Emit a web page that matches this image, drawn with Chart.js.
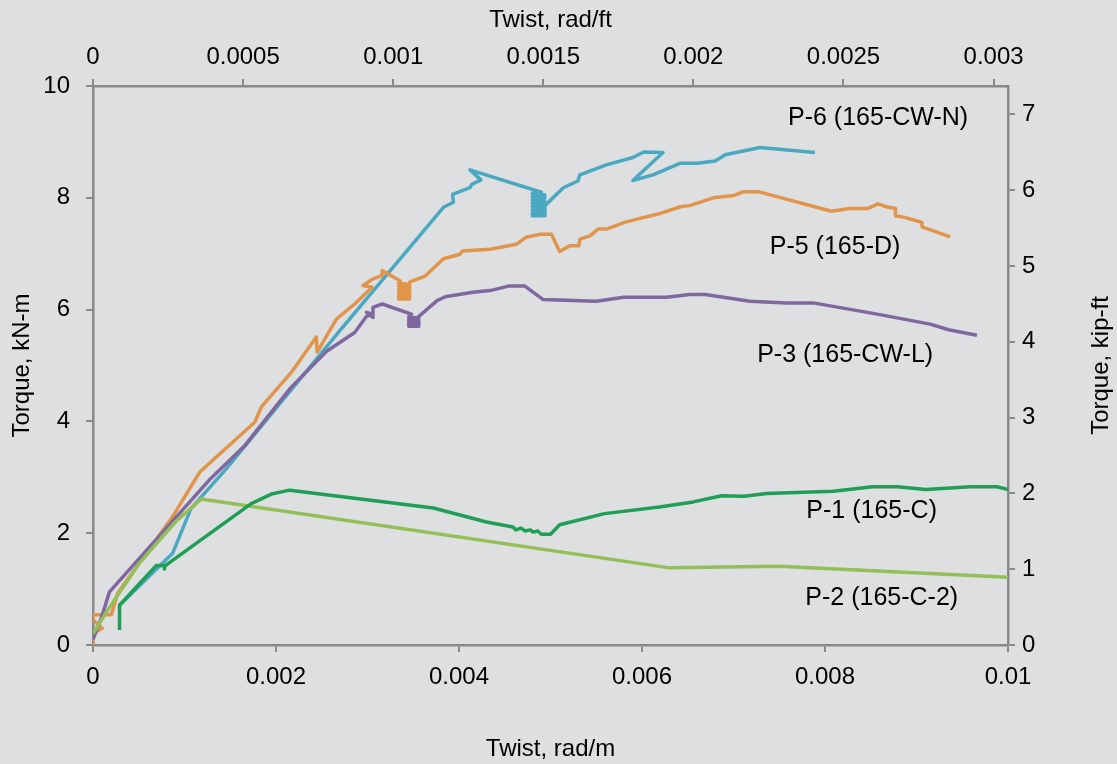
<!DOCTYPE html>
<html>
<head>
<meta charset="utf-8">
<script src="https://cdn.jsdelivr.net/npm/chart.js@4/dist/chart.umd.min.js"></script>
<style>
  body { margin: 0; background: #dedfe1; }
  #wrap { width: 1117px; height: 764px; }
</style>
</head>
<body>
<div id="wrap"><canvas id="torqueChart" width="1117" height="764"></canvas></div>
<script>
// twist in rad/m, torque in kN-m
const p1Twist = [0.00029, 0.00029, 0.00069, 0.00078, 0.00078, 0.00079, 0.00173, 0.00195, 0.00215, 0.00372, 0.0043, 0.00459, 0.00462, 0.00468, 0.00472, 0.00478, 0.00481, 0.00486, 0.0049, 0.005, 0.0051, 0.00559, 0.00619, 0.00656, 0.00687, 0.00712, 0.00736, 0.00809, 0.00852, 0.00879, 0.0091, 0.00959, 0.00988, 0.01];
const p1Torque = [0.27, 0.71, 1.42, 1.42, 1.36, 1.42, 2.53, 2.70, 2.77, 2.45, 2.20, 2.11, 2.06, 2.09, 2.04, 2.06, 2.02, 2.04, 1.98, 1.98, 2.15, 2.35, 2.47, 2.56, 2.67, 2.66, 2.71, 2.75, 2.83, 2.83, 2.78, 2.83, 2.83, 2.78];

const p2Twist = [0, 0.00015, 0.0005, 0.0009, 0.00118, 0.0063, 0.0075, 0.01];
const p2Torque = [0.2, 0.6, 1.45, 2.2, 2.61, 1.38, 1.41, 1.21];

const p3Twist = [0, 0.00009, 0.00018, 0.00127, 0.00166, 0.00216, 0.00255, 0.00286, 0.00299, 0.00306, 0.00299, 0.00306, 0.00306, 0.00316, 0.00348,
  0.00345, 0.00356, 0.00345, 0.00356, 0.00345, 0.00356, 0.00345, 0.00356, 0.00345, 0.00356, 0.00345, 0.00356, 0.00356,
  0.00359, 0.00376, 0.00385, 0.00415, 0.00434, 0.00454, 0.00472, 0.00492, 0.0055, 0.0058, 0.00627, 0.00652, 0.00669, 0.00718, 0.00758, 0.00787, 0.0086, 0.00915, 0.00935, 0.00966];
const p3Torque = [0.1, 0.48, 0.95, 2.95, 3.57, 4.6, 5.25, 5.59, 5.88, 5.92, 5.95, 5.86, 6.04, 6.10, 5.92,
  5.87, 5.85, 5.83, 5.81, 5.79, 5.77, 5.75, 5.73, 5.71, 5.70, 5.70, 5.70, 5.88,
  5.92, 6.16, 6.23, 6.31, 6.34, 6.42, 6.42, 6.18, 6.15, 6.22, 6.22, 6.27, 6.27, 6.15, 6.12, 6.12, 5.91, 5.74, 5.64, 5.54];

const p5Twist = [0, 0, 0.0001, 0, 0, 0.0002, 0.00027, 0.00086, 0.00117, 0.00177, 0.00184, 0.00217, 0.00244, 0.00245, 0.00266, 0.00286, 0.00305, 0.00295, 0.00306, 0.00316, 0.00316, 0.00336,
  0.00334, 0.00346, 0.00334, 0.00346, 0.00334, 0.00346, 0.00334, 0.00346, 0.00334, 0.00346, 0.00334, 0.00346, 0.00334, 0.00346, 0.00346,
  0.00363, 0.00383, 0.00401, 0.00404, 0.00434, 0.00463, 0.00474, 0.0049, 0.00501, 0.0051, 0.00521, 0.00531, 0.00532, 0.00543, 0.00552, 0.00561, 0.00581, 0.006, 0.0062, 0.00642, 0.00652, 0.00678, 0.007, 0.00711, 0.00727, 0.00807, 0.00827, 0.00847, 0.00858, 0.00867, 0.00877, 0.00877, 0.00887, 0.00893, 0.00906, 0.00906, 0.00937];
const p5Torque = [0, 0.2, 0.3, 0.45, 0.54, 0.54, 0.93, 2.27, 3.10, 3.99, 4.26, 4.88, 5.51, 5.24, 5.83, 6.10, 6.40, 6.43, 6.55, 6.61, 6.70, 6.51,
  6.47, 6.45, 6.42, 6.40, 6.37, 6.35, 6.32, 6.30, 6.27, 6.25, 6.22, 6.20, 6.19, 6.19, 6.49,
  6.60, 6.91, 6.99, 7.05, 7.08, 7.17, 7.30, 7.35, 7.35, 7.04, 7.14, 7.14, 7.26, 7.32, 7.44, 7.44, 7.56, 7.64, 7.72, 7.84, 7.86, 8.0, 8.04, 8.11, 8.11, 7.76, 7.81, 7.81, 7.89, 7.84, 7.81, 7.68, 7.65, 7.62, 7.56, 7.48, 7.30];

const p6Twist = [0.00029, 0.00087, 0.00107, 0.00146, 0.0027, 0.00383, 0.00394, 0.00393, 0.00412, 0.00414, 0.00424, 0.00412, 0.0049,
  0.0048, 0.00494, 0.0048, 0.00494, 0.0048, 0.00494, 0.0048, 0.00494, 0.0048, 0.00494, 0.0048, 0.00494, 0.0048, 0.00494, 0.0048, 0.00494, 0.0048, 0.00494, 0.00494,
  0.00514, 0.0053, 0.00532, 0.00561, 0.0059, 0.00602, 0.00623, 0.0059, 0.00612, 0.00642, 0.0066, 0.0068, 0.00691, 0.00729, 0.00789];
const p6Torque = [0.71, 1.64, 2.44, 3.16, 5.63, 7.83, 7.92, 8.06, 8.18, 8.24, 8.32, 8.50, 8.10,
  8.08, 8.05, 8.02, 7.99, 7.96, 7.93, 7.90, 7.87, 7.84, 7.81, 7.78, 7.75, 7.72, 7.70, 7.68, 7.68, 7.68, 7.72, 7.86,
  8.18, 8.30, 8.41, 8.59, 8.72, 8.82, 8.81, 8.31, 8.41, 8.62, 8.62, 8.66, 8.77, 8.90, 8.81];

const seriesNames = ["P-1 (165-C)", "P-2 (165-C-2)", "P-3 (165-CW-L)", "P-5 (165-D)", "P-6 (165-CW-N)"];
const seriesColors = ["#1f9f55", "#93bf57", "#7f68a0", "#e0954b", "#4aa8c0"];
// label anchors (rad/m, kN-m)
const labelTwist = [0.00851, 0.00862, 0.00822, 0.00811, 0.00858];
const labelTorque = [2.39, 0.84, 5.18, 7.11, 9.43];

const twistMTicks = [0, 0.002, 0.004, 0.006, 0.008, 0.01];
const twistMLabels = ["0", "0.002", "0.004", "0.006", "0.008", "0.01"];
const twistFtTicks = [0, 0.0005, 0.001, 0.0015, 0.002, 0.0025, 0.003];
const twistFtLabels = ["0", "0.0005", "0.001", "0.0015", "0.002", "0.0025", "0.003"];
const torqueKnmTicks = [0, 2, 4, 6, 8, 10];
const torqueKipTicks = [0, 1, 2, 3, 4, 5, 6, 7];

const FT_PER_M = 0.3048;
const KIPFT_PER_KNM = 0.73756;

const axisGray = "#898989";
const fontFamily = "'Liberation Sans', Arial, sans-serif";

function points(xs, ys) {
  return xs.map((x, i) => ({ x: x, y: ys[i] }));
}

const allTwist = [p1Twist, p2Twist, p3Twist, p5Twist, p6Twist];
const allTorque = [p1Torque, p2Torque, p3Torque, p5Torque, p6Torque];

const datasets = seriesNames.map((name, i) => ({
  label: name,
  data: points(allTwist[i], allTorque[i]),
  borderColor: seriesColors[i],
  backgroundColor: seriesColors[i],
  borderWidth: 3.5,
  showLine: true,
  pointRadius: 0,
  tension: 0,
  borderJoinStyle: "round",
  xAxisID: "x",
  yAxisID: "y",
}));

function fixedTicks(values) {
  return (scale) => {
    scale.ticks = values.map((v) => ({ value: v }));
  };
}

function axis(opts) {
  return {
    type: "linear",
    position: opts.position,
    min: opts.min,
    max: opts.max,
    afterBuildTicks: fixedTicks(opts.ticks),
    afterFit: opts.afterFit,
    grid: {
      display: true,
      drawOnChartArea: false,
      drawTicks: true,
      tickLength: 7,
      color: axisGray,
      lineWidth: 2,
    },
    border: { display: true, color: axisGray, width: 2.5 },
    ticks: {
      color: "#000",
      font: { family: fontFamily, size: 24 },
      padding: opts.padding,
      maxRotation: 0,
      autoSkip: false,
      callback: opts.callback,
    },
    title: {
      display: opts.title !== null,
      text: opts.title || "",
      color: "#000",
      font: { family: fontFamily, size: 24 },
      padding: opts.titlePadding,
    },
  };
}

const bgPlugin = {
  id: "bg",
  beforeDraw(chart) {
    const ctx = chart.ctx;
    ctx.save();
    ctx.fillStyle = "#dedfe1";
    ctx.fillRect(0, 0, chart.width, chart.height);
    ctx.restore();
  },
};

const seriesLabelPlugin = {
  id: "seriesLabels",
  afterDatasetsDraw(chart) {
    const ctx = chart.ctx;
    const xs = chart.scales.x;
    const ys = chart.scales.y;
    ctx.save();
    ctx.font = "25px " + fontFamily;
    ctx.fillStyle = "#000";
    ctx.textAlign = "center";
    ctx.textBaseline = "middle";
    seriesNames.forEach((name, i) => {
      ctx.fillText(name, xs.getPixelForValue(labelTwist[i]), ys.getPixelForValue(labelTorque[i]));
    });
    ctx.restore();

    // right axis title reads bottom-to-top, like the left one
    const y2 = chart.scales.y2;
    ctx.save();
    ctx.font = "24px " + fontFamily;
    ctx.fillStyle = "#000";
    ctx.textAlign = "center";
    ctx.textBaseline = "middle";
    ctx.translate(y2.right - 16, (chart.chartArea.top + chart.chartArea.bottom) / 2);
    ctx.rotate(-Math.PI / 2);
    ctx.fillText("Torque, kip-ft", 0, 0);
    ctx.restore();
  },
};

const torqueConfig = {
  type: "scatter",
  data: { datasets: datasets },
  options: {
    responsive: false,
    animation: false,
    layout: { padding: 0 },
    plugins: { legend: { display: false }, tooltip: { enabled: false } },
    scales: {
      x: axis({
        position: "bottom", min: 0, max: 0.01, ticks: twistMTicks, padding: 11,
        callback: (v, i) => twistMLabels[i],
        title: "Twist, rad/m", titlePadding: { top: 0, bottom: 0 },
        afterFit: (s) => { s.height = 119; },
      }),
      x2: axis({
        position: "top", min: 0, max: 0.01 * FT_PER_M, ticks: twistFtTicks, padding: 7,
        callback: (v, i) => twistFtLabels[i],
        title: "Twist, rad/ft", titlePadding: { top: 6, bottom: 0 },
        afterFit: (s) => { s.height = 86; },
      }),
      y: axis({
        position: "left", min: 0, max: 10, ticks: torqueKnmTicks, padding: 16,
        callback: (v) => String(v),
        title: "Torque, kN-m", titlePadding: { top: 8, bottom: 0 },
        afterFit: (s) => { s.width = 93; },
      }),
      y2: axis({
        position: "right", min: 0, max: 10 * KIPFT_PER_KNM, ticks: torqueKipTicks, padding: 7,
        callback: (v) => String(v),
        title: null, titlePadding: 0,
        afterFit: (s) => { s.width = 109; },
      }),
    },
  },
  plugins: [bgPlugin, seriesLabelPlugin],
};

const torqueChart = new Chart(document.getElementById("torqueChart"), torqueConfig);
</script>
</body>
</html>
